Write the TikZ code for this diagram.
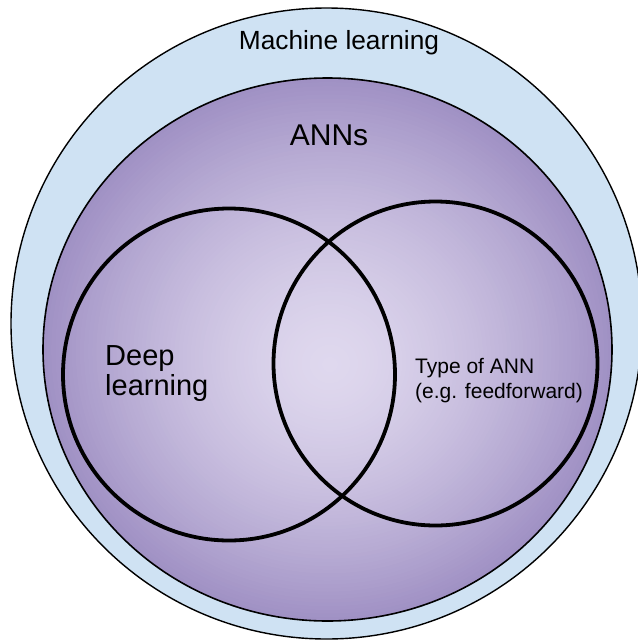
\documentclass[tikz,border=0pt]{standalone}
\usepackage{fontspec}
\setmainfont{Liberation Sans}
\usepackage{tikz}
\usetikzlibrary{positioning}

\definecolor{mlblue}{RGB}{207,226,243}
\definecolor{annlight}{RGB}{223,216,238}
\definecolor{anndark}{RGB}{160,145,196}

\begin{document}
\begin{tikzpicture}[x=1pt, y=-1pt,
      label/.style={inner sep=0pt, align=left},
      venn/.style={line width=3.8pt}]
    \useasboundingbox (0,0) rectangle (638,641);
    \draw[fill=mlblue, line width=1.4pt] (326.5,323.5) circle[radius=315.5pt];
    % ANN disc, lighter towards the middle
    \foreach \i in {0,...,70} {
      \pgfmathsetmacro\t{1-\i/70}
      \pgfmathsetmacro\pct{100*\t^1.5}
      \fill[anndark!\pct!annlight]
        ({330+\t*(327.5-330)},{365+\t*(349.5-365)})
        ellipse[x radius=\t*284.5pt, y radius=\t*271.5pt];
    }
    \draw[line width=1.6pt]
      (327.5,349.5) ellipse[x radius=284.5pt, y radius=271.5pt];
    \draw[venn] (229,374.5) circle[radius=166pt];
    \draw[venn] (435.5,363.5) circle[radius=162pt];
    \node (ML) [label, anchor=base, font=\fontsize{26.3}{30}\selectfont]
      at (339,49) {Machine learning};
    \node (ANNs) [label, anchor=base, font=\fontsize{30}{33}\selectfont]
      at (329,145) {ANNs};
    \node (DL) [label, anchor=north west, font=\fontsize{29}{30}\selectfont]
      at (105,345) {Deep\\learning};
    \node (TypeANN) [label, anchor=north west, font=\fontsize{21}{25}\selectfont]
      at (415,358) {Type of ANN\\(e.g. feedforward)};
  \end{tikzpicture}
\end{document}
